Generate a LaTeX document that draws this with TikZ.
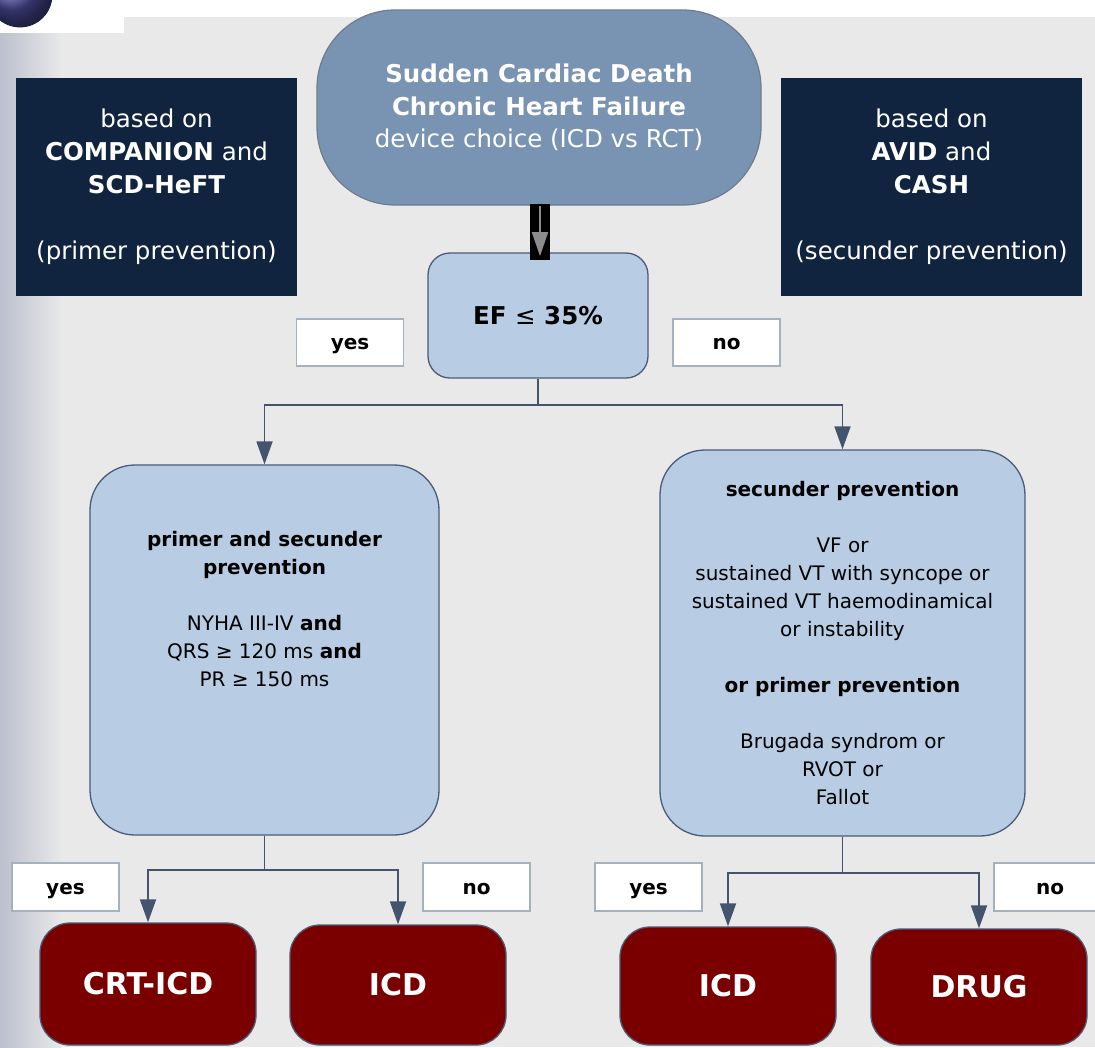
\documentclass[tikz,border=0pt]{standalone}
\usepackage{fontspec}
\setmainfont{DejaVu Sans}
\usetikzlibrary{arrows.meta}
\definecolor{bgc}{HTML}{E9E9E9}
\definecolor{edgec}{HTML}{BCC0CE}
\definecolor{topfill}{HTML}{7993B3}
\definecolor{topline}{HTML}{6E7C8E}
\definecolor{navy}{HTML}{10243F}
\definecolor{lightblue}{HTML}{B8CCE4}
\definecolor{boxline}{HTML}{4B5B78}
\definecolor{darkred}{HTML}{7A0000}
\definecolor{conn}{HTML}{44546F}
\definecolor{labline}{HTML}{A5B2BE}
\definecolor{ballc}{HTML}{4A4A98}
\tikzset{
  topnode/.style={draw=topline, line width=1.2pt, fill=topfill, rounded corners=78pt, inner sep=0pt, align=center, text=white, font=\fontsize{24.5}{32.5}\selectfont},
  darkbox/.style={fill=navy, inner sep=0pt, align=center, text=white, font=\fontsize{24.5}{33}\selectfont},
  bluebox/.style={draw=boxline, line width=1.3pt, fill=lightblue, inner sep=0pt, align=center, font=\fontsize{20}{28}\selectfont},
  labbox/.style={draw=labline, line width=1.3pt, fill=white, inner sep=0pt, minimum width=107pt, minimum height=47pt, text height=18pt, text depth=3.6pt, font=\fontsize{20}{22}\selectfont\bfseries},
  redbox/.style={draw=boxline, line width=1.3pt, fill=darkred, rounded corners=30pt, inner sep=0pt, minimum width=216pt, text=white, font=\fontsize{30}{34}\selectfont\bfseries},
  txt/.style={inner sep=0pt, align=center, font=\fontsize{20}{28}\selectfont},
  connector/.style={draw=conn, line width=1.8pt, -{Triangle[width=16pt,length=23pt]}, color=conn}
}
\begin{document}
\begin{tikzpicture}[x=1pt,y=-1pt]
\useasboundingbox (0,0) rectangle (1095,1047);
% background
\fill[bgc] (0,0) rectangle (1095,1047);
\shade[left color=edgec, right color=bgc] (0,33) rectangle (62,1047);
\fill[white] (0,0) rectangle (124,33);
\fill[white] (124,0) rectangle (1095,17);
\shade[ball color=ballc] (20,-5) circle (32pt);
\draw[navy, line width=0.8pt] (20,-5) circle (32pt);

% top node
\node[topnode, minimum width=444pt, minimum height=195pt] (top) at (539,107.5)
  {\textbf{Sudden Cardiac Death}\\ \textbf{Chronic Heart Failure}\\ device choice (ICD vs RCT)};

% dark info boxes
\node[darkbox, minimum width=281pt, minimum height=218pt] (leftinfo) at (156.5,187)
  {based on\\ \textbf{COMPANION} and\\ \textbf{SCD-HeFT}\\[33pt] (primer prevention)};
\node[darkbox, minimum width=301pt, minimum height=218pt] (rightinfo) at (931.5,187)
  {based on\\ \textbf{AVID} and\\ \textbf{CASH}\\[33pt] (secunder prevention)};

% EF node
\node[bluebox, rounded corners=22pt, minimum width=220pt, minimum height=125pt, font=\fontsize{24.5}{28}\selectfont] (ef) at (538,315.5)
  {\textbf{EF {\mdseries ≤} 35\%}};

% arrow from top to EF
\node[fill=black, inner sep=0pt, minimum width=20pt, minimum height=56pt] (blackbar) at (540,232) {};
\draw[draw=gray!90, line width=1.6pt, -{Triangle[width=16pt,length=24pt]}, color=gray!90]
  (top.south -| blackbar.center) -- ([yshift=4pt]blackbar.south);

\node[labbox] (yes1) at (350,342.5) {yes};
\node[labbox] (no1) at (726.5,342.5) {no};

% big nodes
\node[bluebox, rounded corners=45pt, minimum width=349pt, minimum height=370pt] (leftbig) at (264.5,650) {};
\node[txt] (lefttext) at (264.5,609.5)
  {\textbf{primer and secunder}\\ \textbf{prevention}\\[28pt] NYHA III-IV \textbf{and}\\ QRS ≥ 120 ms \textbf{and}\\ PR ≥ 150 ms};
\node[bluebox, rounded corners=45pt, minimum width=365pt, minimum height=386pt] (rightbig) at (842.5,643)
  {\textbf{secunder prevention}\\[28pt] VF or\\ sustained VT with syncope or\\ sustained VT haemodinamical\\ or instability\\[28pt] \textbf{or primer prevention}\\[28pt] Brugada syndrom or\\ RVOT or\\ Fallot};

% connectors from EF
\coordinate (efsplit) at ([yshift=-26pt]ef.south);
\draw[connector] (ef.south) -- (efsplit) -| (leftbig.north);
\draw[connector] (efsplit) -| (rightbig.north);

% bottom labels
\node[labbox, minimum height=48pt] (yes2) at (65.5,887) {yes};
\node[labbox, minimum height=48pt] (no2) at (476.5,887) {no};
\node[labbox, minimum height=48pt] (yes3) at (648.5,887) {yes};
\node[labbox, minimum height=48pt, minimum width=112pt] (no3) at (1050,887) {no};

% red boxes
\node[redbox, minimum height=122pt] (crt) at (148,984) {CRT-ICD};
\node[redbox, minimum height=120pt] (icdl) at (398,985) {ICD};
\node[redbox, minimum height=118pt] (icdr) at (728,986) {ICD};
\node[redbox, minimum height=116pt] (drug) at (979,987) {DRUG};

% bottom connectors
\coordinate (lsplit) at (leftbig.south |- 0,870);
\draw[connector] (leftbig.south) -- (lsplit) -| (crt.north);
\draw[connector] (lsplit) -| (icdl.north);
\coordinate (rsplit) at (rightbig.south |- 0,873);
\draw[connector] (rightbig.south) -- (rsplit) -| (icdr.north);
\draw[connector] (rsplit) -| (drug.north);
\end{tikzpicture}
\end{document}
